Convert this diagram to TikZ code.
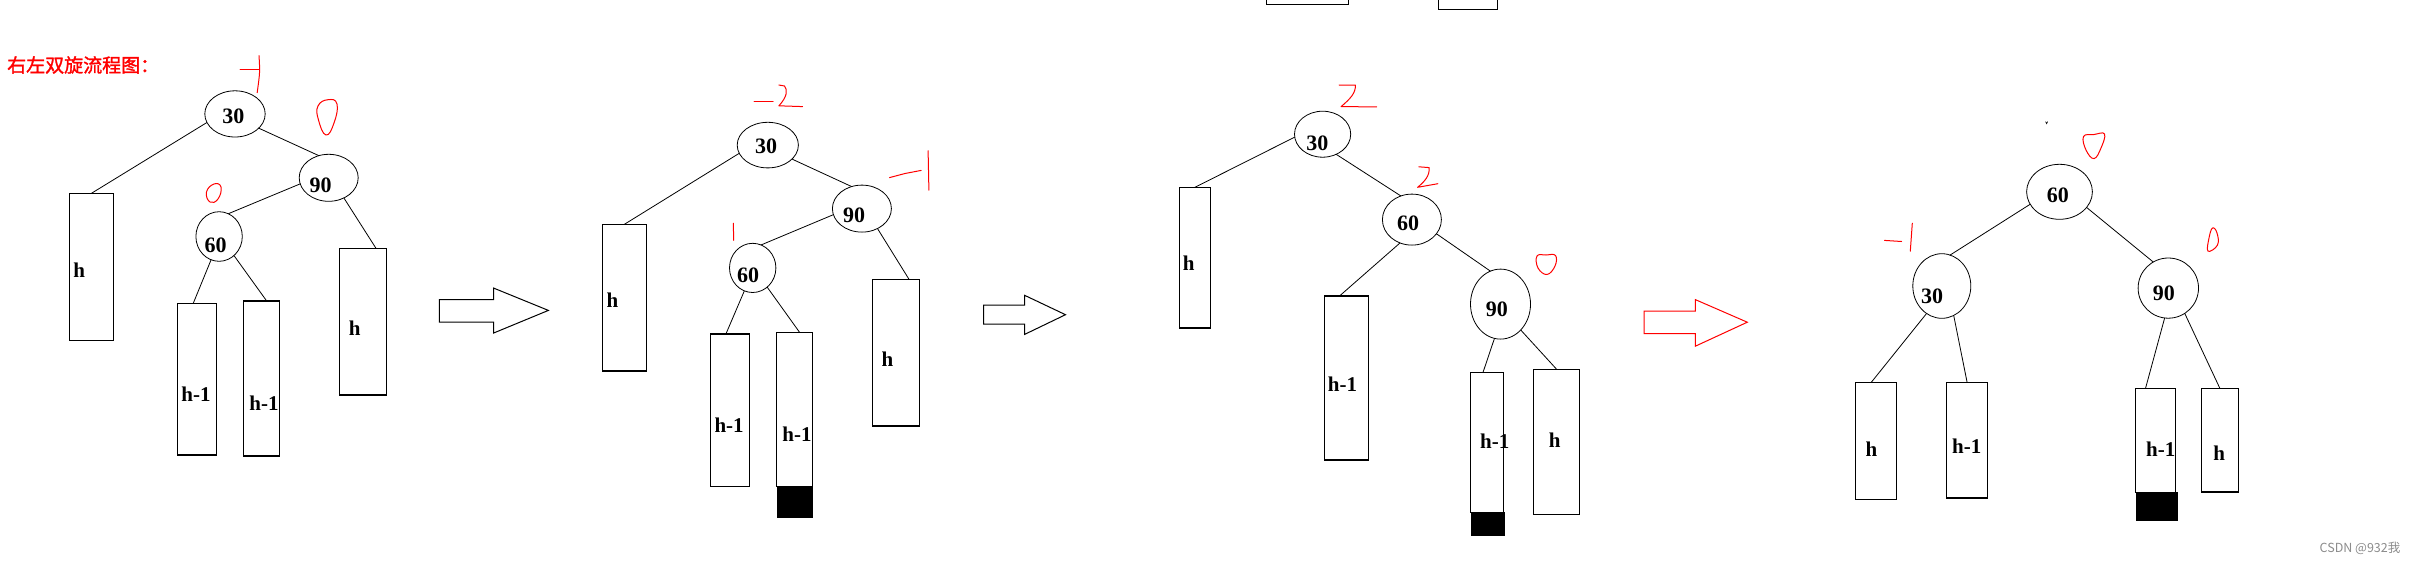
\documentclass[tikz,border=0pt]{standalone}
\usepackage{fontspec}
\usetikzlibrary{shapes.geometric}
\newfontfamily\serifB{Liberation Serif}
\newfontfamily\cjkbold[FakeBold=1.5]{Noto Sans CJK SC}
\newfontfamily\cjkreg{Noto Sans CJK SC}
\tikzset{
  ell/.style={draw, ellipse, inner sep=0pt, outer sep=0pt, line width=0.8pt},
  treebox/.style={draw, rectangle, inner sep=0pt, outer sep=0pt, line width=1.2pt},
  numlbl/.style={inner sep=0pt, font=\serifB\bfseries\fontsize{22}{22}\selectfont},
  lbl/.style={inner sep=0pt, font=\serifB\bfseries\fontsize{21}{21}\selectfont},
  conn/.style={line width=0.8pt},
  redmark/.style={draw=red, line width=1pt, line cap=round, line join=round},
  fatarrow/.style={line width=1pt, line join=miter},
  blk/.style={fill=black}
}
\begin{document}
\begin{tikzpicture}[x=1pt,y=-1pt]
\useasboundingbox[fill=white] (0,0) rectangle (2413,563);

% title
\node[anchor=west, inner sep=0pt, text=red, font=\cjkbold\fontsize{19}{19}\selectfont] (title) at (7,65) {右左双旋流程图：};

% top cut-off boxes
\draw[line width=1.2pt] (1266.5,-5) rectangle (1348.4,4.3);
\draw[line width=1.2pt] (1438.3,-5) rectangle (1497.2,9.3);

% ================= panel 1 =================
\node[ell, minimum width=60.4pt, minimum height=46.2pt] (p1a30) at (235,113.9) {};
\node[ell, minimum width=59pt, minimum height=47pt] (p1a90) at (328.7,177.8) {};
\node[ell, minimum width=46.4pt, minimum height=49.6pt] (p1a60) at (219.1,236.5) {};
\node[numlbl] (p1t30) at (233.4,115.9) {30};
\node[numlbl] (p1t90) at (320.7,184.8) {90};
\node[numlbl] (p1t60) at (215.5,245.1) {60};
\node[treebox, minimum width=44pt, minimum height=146.8pt] (p1hL) at (91.3,266.8) {};
\node[treebox, minimum width=38.6pt, minimum height=151.8pt] (p1h1a) at (196.9,379.1) {};
\node[treebox, minimum width=36pt, minimum height=155pt] (p1h1b) at (261.4,378.5) {};
\node[treebox, minimum width=47pt, minimum height=146.7pt] (p1hR) at (363,321.65) {};
\node[lbl] (p1lhL) at (79.2,269.8) {h};
\node[lbl] (p1lh1a) at (196,394.7) {h-1};
\node[lbl] (p1lh1b) at (264,403.7) {h-1};
\node[lbl] (p1lhR) at (354.8,328.3) {h};
\draw[conn] (p1a30.197) -- (p1hL.north);
\draw[conn] (p1a30.-31) -- (p1a90.114);
\draw[conn] (p1a90.192) -- (p1a60.68);
\draw[conn] (p1a90.-53) -- ([xshift=13pt]p1hR.north);
\draw[conn] (p1a60.-109) -- ([xshift=-3.6pt]p1h1a.north);
\draw[conn] (p1a60.-52) -- ([xshift=5.3pt]p1h1b.north);
% red marks
\draw[redmark] (240,69.2) -- (259,69.2);
\draw[redmark] (259,55.6) .. controls (260,72) .. (257.2,92.6);
\draw[redmark] plot[smooth cycle, tension=0.8] coordinates {(318,106) (318.5,120) (326,135) (334,123) (337,104) (328,99.7)};
\draw[redmark] plot[smooth cycle, tension=0.8] coordinates {(206.5,192) (210,202) (218,199) (221,187) (214,184)};
\draw[fatarrow] (439.3,299.6) -- (493.7,299.6) -- (493.7,288.1) -- (548.4,310.4) -- (493.7,333) -- (493.7,322.2) -- (439.3,322.2) -- cycle;

% ================= panel 2 =================
\node[ell, minimum width=61.2pt, minimum height=45.6pt] (p2a30) at (767.8,145.1) {};
\node[ell, minimum width=59pt, minimum height=47pt] (p2a90) at (861.9,208.6) {};
\node[ell, minimum width=46.4pt, minimum height=49.2pt] (p2a60) at (752.7,267.9) {};
\node[numlbl] (p2t30) at (766.2,146.4) {30};
\node[numlbl] (p2t90) at (854.2,215.3) {90};
\node[numlbl] (p2t60) at (748.2,275.6) {60};
\node[treebox, minimum width=44pt, minimum height=146.7pt] (p2hL) at (624.4,297.65) {};
\node[treebox, minimum width=39pt, minimum height=152.2pt] (p2h1a) at (729.9,410.1) {};
\node[treebox, minimum width=35.9pt, minimum height=153.9pt] (p2h1b) at (794.55,409.25) {};
\node[treebox, minimum width=47.5pt, minimum height=146.7pt] (p2hR) at (895.95,352.55) {};
\fill[blk] (p2h1b.south west) rectangle ++(35.9,31.6);
\node[lbl] (p2lhL) at (612.4,300.7) {h};
\node[lbl] (p2lh1a) at (729.1,425.2) {h-1};
\node[lbl] (p2lh1b) at (797,434.2) {h-1};
\node[lbl] (p2lhR) at (887.5,358.8) {h};
\draw[conn] (p2a30.196) -- (p2hL.north);
\draw[conn] (p2a30.-30) -- (p2a90.115);
\draw[conn] (p2a90.192) -- (p2a60.70);
\draw[conn] (p2a90.-52) -- ([xshift=13pt]p2hR.north);
\draw[conn] (p2a60.-110) -- ([xshift=-4pt]p2h1a.north);
\draw[conn] (p2a60.-53) -- ([xshift=5pt]p2h1b.north);
\draw[redmark] (754,101.5) -- (773.1,101.5);
\draw[redmark] (778.9,85) -- (784.5,86) .. controls (788,90) and (787,97) .. (778.9,105.8) -- (802.6,106.6);
\draw[redmark] (889.5,177.6) -- (905,173.5) -- (921.2,170.4);
\draw[redmark] (928.1,150.7) -- (928.9,190.2);
\draw[redmark] (733.3,223.2) -- (733.7,240.4);
\draw[fatarrow] (983.6,305) -- (1024.6,305) -- (1024.6,295.3) -- (1065.5,314.7) -- (1024.6,334.4) -- (1024.6,324) -- (983.6,324) -- cycle;

% ================= panel 3 =================
\node[ell, minimum width=56.2pt, minimum height=46pt] (p3a30) at (1322.6,134.2) {};
\node[ell, minimum width=59pt, minimum height=51pt] (p3a60) at (1411.9,219.6) {};
\node[ell, minimum width=60pt, minimum height=70pt] (p3a90) at (1500.5,304.1) {};
\node[numlbl] (p3t30) at (1317.4,142.8) {30};
\node[numlbl] (p3t60) at (1408.1,223.5) {60};
\node[numlbl] (p3t90) at (1496.9,309.3) {90};
\node[treebox, minimum width=31.4pt, minimum height=140.7pt] (p3hL) at (1194.9,257.65) {};
\node[treebox, minimum width=44.4pt, minimum height=164pt] (p3h1a) at (1346.5,378) {};
\node[treebox, minimum width=33.2pt, minimum height=140.3pt] (p3h1b) at (1487.1,442.25) {};
\node[treebox, minimum width=45.9pt, minimum height=145pt] (p3hR) at (1556.55,441.7) {};
\fill[blk] ([xshift=0.7pt]p3h1b.south west) rectangle ++(33.7,24);
\node[lbl] (p3lhL) at (1188.8,263.7) {h};
\node[lbl] (p3lh1a) at (1342.5,383.9) {h-1};
\node[lbl] (p3lh1b) at (1494.7,441.3) {h-1};
\node[lbl] (p3lhR) at (1554.6,440.6) {h};
\draw[conn] (p3a30.186) -- (p3hL.north);
\draw[conn] (p3a30.-56) -- (p3a60.115);
\draw[conn] (p3a60.-117) -- ([xshift=-7pt]p3h1a.north);
\draw[conn] (p3a60.-30) -- (p3a90.107);
\draw[conn] (p3a90.-100) -- ([xshift=-4pt]p3h1b.north);
\draw[conn] (p3a90.-52) -- (p3hR.north);
\draw[redmark] (1339.2,85) -- (1355.3,85) .. controls (1356,93) and (1350,99) .. (1341.1,106.6) -- (1376.7,106.9);
\draw[redmark] (1418.8,166.8) -- (1429.1,167.6) .. controls (1430,176) and (1424,182) .. (1417.6,187.3) -- (1437.9,183.7);
\draw[redmark] plot[smooth cycle, tension=0.7] coordinates {(1537,256) (1546,255) (1555.5,255.5) (1555,266) (1547,274.5) (1538,268)};
\draw[fatarrow, draw=red] (1644.2,311.1) -- (1695.3,311.1) -- (1695.3,299.6) -- (1747.3,322.2) -- (1695.3,346.2) -- (1695.3,333.7) -- (1644.2,333.7) -- cycle;

% ================= panel 4 =================
\node[ell, minimum width=65.8pt, minimum height=55pt] (p4a60) at (2059.5,191.8) {};
\node[ell, minimum width=58pt, minimum height=64.6pt] (p4a30) at (1941.8,286) {};
\node[ell, minimum width=60.4pt, minimum height=60.2pt] (p4a90) at (2168.3,288.1) {};
\node[numlbl] (p4t60) at (2057.8,195.6) {60};
\node[numlbl] (p4t30) at (1932.2,296) {30};
\node[numlbl] (p4t90) at (2163.9,293.2) {90};
\node[treebox, minimum width=41.3pt, minimum height=117pt] (p4b1) at (1876.05,440.6) {};
\node[treebox, minimum width=41.3pt, minimum height=115.9pt] (p4b2) at (1967.05,440.05) {};
\node[treebox, minimum width=39.9pt, minimum height=104.1pt] (p4b3) at (2155.55,440.25) {};
\node[treebox, minimum width=37pt, minimum height=103.7pt] (p4b4) at (2219.8,440.05) {};
\fill[blk] (p4b3.south west) rectangle ++(41.9,29.1);
\node[lbl] (p4l1) at (1871.4,449.6) {h};
\node[lbl] (p4l2) at (1966.8,446) {h-1};
\node[lbl] (p4l3) at (2160.7,449.6) {h-1};
\node[lbl] (p4l4) at (2219.3,453.2) {h};
\draw[conn] (p4a60.203) -- (p4a30.75);
\draw[conn] (p4a60.-30) -- (p4a90.120);
\draw[conn] (p4a30.-119) -- ([xshift=-4.6pt]p4b1.north);
\draw[conn] (p4a30.-68) -- (p4b2.north);
\draw[conn] (p4a90.-97) -- ([xshift=-10pt]p4b3.north);
\draw[conn] (p4a90.-57) -- (p4b4.north);
\draw[line width=0.6pt] (2045.6,121.6) -- (2046.6,123.6) -- (2047.6,121.6);
\draw[redmark] plot[smooth cycle, tension=0.7] coordinates {(2083.5,136.5) (2094,134.5) (2104.5,134) (2101,148) (2094,158.6) (2086,150)};
\draw[redmark] (1884.5,240.4) -- (1901.6,241.5);
\draw[redmark] (1912.3,223.2) -- (1910.3,251.2);
\draw[redmark] plot[smooth cycle, tension=0.7] coordinates {(2212.5,228) (2217,233) (2217.5,245) (2208,251.2) (2209,238)};

% watermark
\node[text=black!45, inner sep=0pt, font=\cjkreg\fontsize{12.5}{12.5}\selectfont] (wm) at (2360,548.5) {CSDN @932我};
\end{tikzpicture}
\end{document}
